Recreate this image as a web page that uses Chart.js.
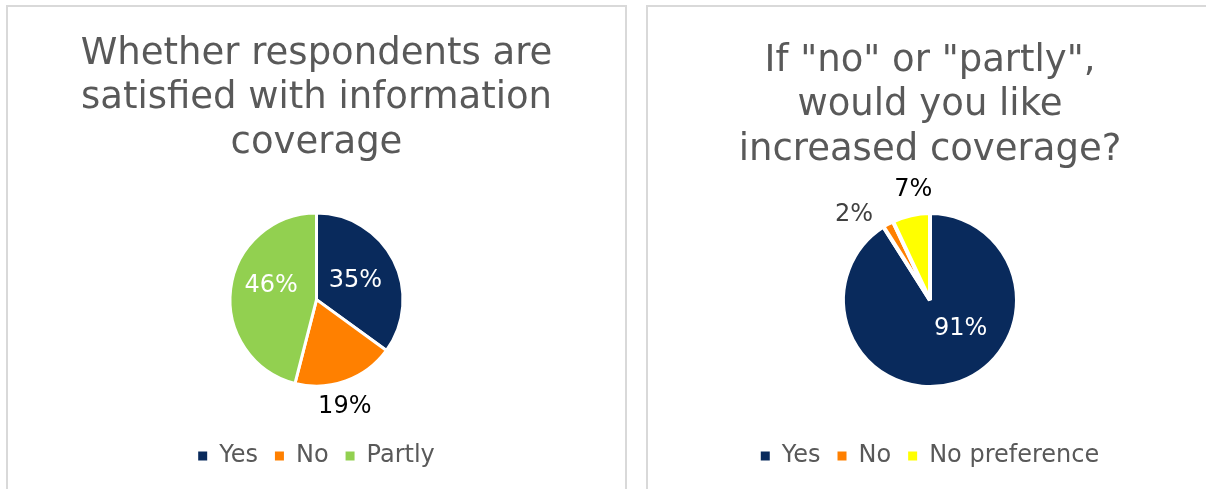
<!DOCTYPE html>
<html>
<head>
<meta charset="utf-8">
<script src="https://cdn.jsdelivr.net/npm/chart.js@4.4.0/dist/chart.umd.min.js"></script>
<style>
    body { margin: 0; background: #fff; }
    .panel { position: absolute; top: 5px; height: 500px; border: 2px solid #d9d9d9; box-sizing: border-box; background: #fff; }
    #left-panel { left: 6px; width: 621px; }
    #right-panel { left: 646px; width: 568px; }
    canvas { display: block; }
</style>
</head>
<body>
<div class="panel" id="left-panel"><canvas id="satisfiedChart"></canvas></div>
<div class="panel" id="right-panel"><canvas id="coverageChart"></canvas></div>
<script>
// Chart 1 - satisfied with coverage
const satisfiedLabels = ['Yes', 'No', 'Partly'];
const satisfiedValues = [35, 19, 46];
const satisfiedTitle = ['Whether respondents are', 'satisfied with information', 'coverage'];

// Chart 2 - increased coverage
const coverageLabels = ['Yes', 'No', 'No preference'];
const coverageValues = [91, 2, 7];
const coverageTitle = ['If "no" or "partly",', 'would you like', 'increased coverage?'];

const fontFamily = 'DejaVu Sans, Verdana, sans-serif';

// draws the % labels, placed from each arc's own angles and radius
const pieLabels = {
    id: 'pieLabels',
    afterDatasetsDraw(chart, args, opts) {
        const ctx = chart.ctx;
        const meta = chart.getDatasetMeta(0);
        const values = chart.data.datasets[0].data;
        const total = values.reduce((a, b) => a + b, 0);
        ctx.save();
        ctx.font = '24px ' + fontFamily;
        ctx.textAlign = 'center';
        ctx.textBaseline = 'middle';
        meta.data.forEach((arc, i) => {
            const p = arc.getProps(['x', 'y', 'startAngle', 'endAngle', 'outerRadius'], true);
            const mid = (p.startAngle + p.endAngle) / 2 + opts.shift[i] * Math.PI / 180;
            const r = p.outerRadius * opts.dist[i];
            ctx.fillStyle = opts.colors[i];
            ctx.fillText(Math.round(values[i] / total * 100) + '%', p.x + Math.cos(mid) * r, p.y + Math.sin(mid) * r);
        });
        ctx.restore();
    }
};

function makePie(id, labels, values, colors, title, titlePad, border, radius, labelOpts) {
    const canvas = document.getElementById(id);
    canvas.width = canvas.parentElement.clientWidth;
    canvas.height = 482;
    return new Chart(canvas.getContext('2d'), {
        type: 'pie',
        data: {
            labels: labels,
            datasets: [{
                data: values,
                backgroundColor: colors,
                borderColor: '#ffffff',
                borderWidth: border,
                radius: radius
            }]
        },
        options: {
            responsive: false,
            animation: false,
            layout: { padding: { bottom: 11 } },
            plugins: {
                title: {
                    display: true,
                    text: title,
                    color: '#595959',
                    font: { family: fontFamily, size: 37, weight: 'normal', lineHeight: 1.2 },
                    padding: titlePad
                },
                legend: {
                    position: 'bottom',
                    labels: {
                        color: '#595959',
                        boxWidth: 9,
                        boxHeight: 9,
                        padding: 17,
                        font: { family: fontFamily, size: 24 },
                        generateLabels: (chart) => Chart.overrides.pie.plugins.legend.labels.generateLabels(chart)
                            .map(l => Object.assign(l, { lineWidth: 0, strokeStyle: 'rgba(0,0,0,0)' }))
                    }
                },
                tooltip: { enabled: false },
                pieLabels: labelOpts
            }
        },
        plugins: [pieLabels]
    });
}

makePie('satisfiedChart', satisfiedLabels, satisfiedValues,
    ['#092a5c', '#ff8000', '#92d050'], satisfiedTitle, { top: 25, bottom: 7 }, 3, 86.5,
    { colors: ['#ffffff', '#000000', '#ffffff'], dist: [0.5, 1.28, 0.55], shift: [1, 5, 10] });

makePie('coverageChart', coverageLabels, coverageValues,
    ['#092a5c', '#ff8000', '#ffff00'], coverageTitle, { top: 32, bottom: 1 }, 4, 87,
    { colors: ['#ffffff', '#404040', '#000000'], dist: [0.48, 1.31, 1.28], shift: [-31, -13, 4] });
</script>
</body>
</html>
